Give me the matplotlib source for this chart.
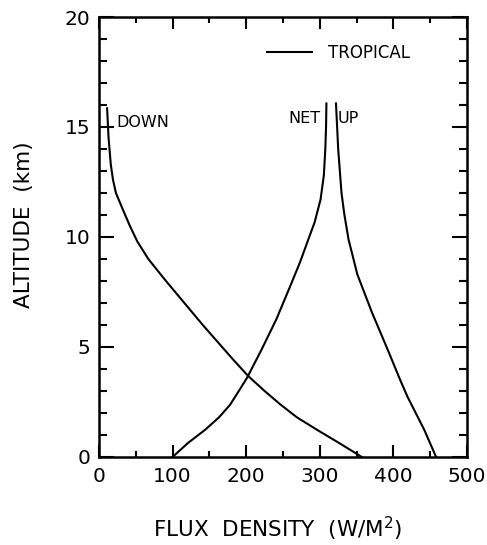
import numpy as np
import matplotlib
matplotlib.use("Agg")
import matplotlib.pyplot as plt
from matplotlib.ticker import MultipleLocator

# values (flux in W/m^2, altitude in km)
down_alt = [0, 0.6, 1.2, 1.8, 2.4, 3.0, 3.67, 4.4, 5.2, 6.0, 7.0, 8.0, 9.0,
            9.8, 10.5, 11.2, 12.0, 12.6, 13.3, 14.5, 15.85]
down_flux = [357, 328, 298, 269, 246, 225, 203, 183, 162, 141, 116, 91, 67,
             52, 42, 33, 23, 19, 16, 13, 11]

up_alt = [0, 1.23, 2.75, 3.52, 4.74, 6.56, 8.3, 9.9, 11.0, 12.0, 14.0, 16.07]
up_flux = [458, 442, 419, 409, 394, 371, 351, 339, 333.5, 329.5, 325, 322]

net_alt = [0, 0.64, 1.23, 1.8, 2.37, 3.0, 3.59, 4.89, 6.26, 7.7, 8.84, 9.76,
           10.67, 11.7, 12.8, 14.0, 15.0, 16.07]
net_flux = [100, 121, 144, 163, 178, 190, 201, 221, 241, 259, 273, 283,
            293, 301, 305.5, 307.5, 308.5, 309]

curve_names = ["DOWN", "NET", "UP"]
legend_label = "TROPICAL"

plt.rcParams['font.family'] = ['DejaVu Sans']

fig = plt.figure(figsize=(4.87, 5.45), dpi=100)
ax = fig.add_axes([0.2033, 0.1615, 0.7556, 0.8073])

lw = 1.5
tropical, = ax.plot(down_flux, down_alt, color='black', lw=lw, label=legend_label)
ax.plot(net_flux, net_alt, color='black', lw=lw)
ax.plot(up_flux, up_alt, color='black', lw=lw)

ax.set_xlim(0, 500)
ax.set_ylim(0, 20)
ax.xaxis.set_major_locator(MultipleLocator(100))
ax.xaxis.set_minor_locator(MultipleLocator(50))
ax.yaxis.set_major_locator(MultipleLocator(5))
ax.yaxis.set_minor_locator(MultipleLocator(1))

for s in ax.spines.values():
    s.set_linewidth(1.8)

ax.tick_params(axis='both', which='both', direction='in', top=True, right=True,
               width=1.5, labelsize=14.5)
ax.tick_params(axis='x', which='major', length=8.5, pad=7)
ax.tick_params(axis='x', which='minor', length=4.5)
ax.tick_params(axis='y', which='major', length=11, pad=6)
ax.tick_params(axis='y', which='minor', length=6)

# curve labels
ax.text(24, 15.2, curve_names[0], fontsize=11.5, ha='left', va='center')
ax.text(301, 15.4, curve_names[1], fontsize=11.5, ha='right', va='center')
ax.text(324, 15.4, curve_names[2], fontsize=11.5, ha='left', va='center')

ax.legend(handles=[tropical], loc='center left', bbox_to_anchor=(0.4565, 0.918),
          frameon=False, fontsize=12, handlelength=2.7, handletextpad=0.95,
          borderpad=0, borderaxespad=0)

ax.set_xlabel("FLUX  DENSITY  (W/M$^2$)", fontsize=15.5, labelpad=21)
ax.set_ylabel("ALTITUDE  (km)", fontsize=15.5, labelpad=22)
ax.xaxis.label.set_x(0.486)
ax.yaxis.label.set_y(0.527)

fig.savefig("out.png", dpi=100)
